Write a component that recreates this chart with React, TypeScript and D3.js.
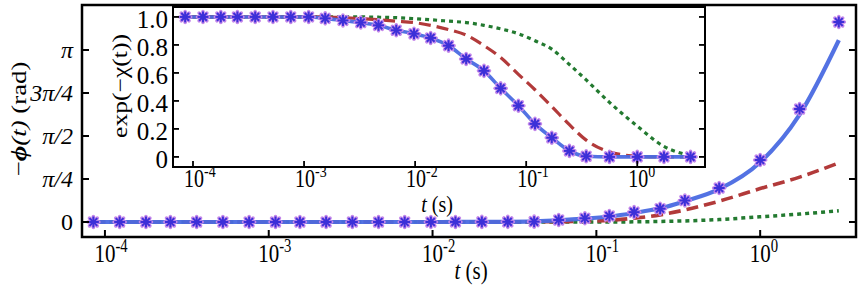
import React from 'react';
import * as d3 from 'd3';

// sample times (s), shared by every series
const times = [
  8.5e-5, 1.23e-4, 1.78e-4, 2.51e-4, 3.63e-4, 5.25e-4, 7.59e-4, 1.1e-3, 1.55e-3, 2.24e-3,
  3.24e-3, 4.68e-3, 6.76e-3, 9.77e-3, 0.0138, 0.02, 0.0288, 0.0417, 0.0589, 0.0851,
  0.12, 0.17, 0.245, 0.347, 0.562, 1.0, 1.74, 3.02,
];

// main panel: -phi(t) in rad
const phaseMarkers = [
  0, 0, 0, 0, 0, 0, 0, 0, 0, 0,
  0, 0, 0, 0, 0.001, 0.002, 0.003, 0.006, 0.037, 0.068,
  0.11, 0.18, 0.243, 0.393, 0.621, 1.132, 2.064, 3.653,
];
const phaseBlue = [
  0, 0, 0, 0, 0, 0, 0, 0, 0, 0,
  0, 0, 0, 0, 0.001, 0.002, 0.004, 0.012, 0.03, 0.06,
  0.1, 0.165, 0.25, 0.38, 0.6, 1.09, 1.96, 3.32,
];
const phaseRed = [
  0, 0, 0, 0, 0, 0, 0, 0, 0, 0,
  0, 0, 0, 0, 0, 0, 0.001, 0.003, 0.006, 0.012,
  0.03, 0.07, 0.13, 0.22, 0.38, 0.61, 0.82, 1.08,
];
const phaseGreen = [
  0, 0, 0, 0, 0, 0, 0, 0, 0, 0,
  0, 0, 0, 0, 0, 0, 0, 0, 0, 0,
  0, 0.003, 0.01, 0.02, 0.045, 0.095, 0.145, 0.205,
];

// inset: exp(-chi(t))
const cohMarkers = [
  1, 1, 1, 1, 1, 1, 1, 1, 0.99, 0.975,
  0.96, 0.94, 0.905, 0.88, 0.85, 0.795, 0.7, 0.615, 0.49, 0.366,
  0.236, 0.137, 0.043, 0.005, 0, 0, 0, 0,
];
const cohRed = [
  1, 1, 1, 1, 1, 1, 1, 1, 1, 0.995,
  0.988, 0.98, 0.97, 0.96, 0.94, 0.91, 0.87, 0.795, 0.71, 0.59,
  0.48, 0.36, 0.23, 0.12, 0.036, 0.005, 0, 0,
];
const cohGreen = [
  1, 1, 1, 1, 1, 1, 1, 1, 1, 1,
  1, 0.998, 0.995, 0.988, 0.98, 0.97, 0.96, 0.94, 0.915, 0.88,
  0.83, 0.77, 0.66, 0.55, 0.39, 0.22, 0.075, 0.01,
];

const decades = [-4, -3, -2, -1, 0];
const phaseTicks = [
  { v: 0, label: '0' },
  { v: Math.PI / 4, label: 'π/4' },
  { v: Math.PI / 2, label: 'π/2' },
  { v: (3 * Math.PI) / 4, label: '3π/4' },
  { v: Math.PI, label: 'π' },
];
const cohTicks = [0, 0.2, 0.4, 0.6, 0.8, 1.0];

const W = 866;
const H = 292;
const serif = '"Liberation Serif", "DejaVu Serif", serif';
const BLUE = '#4a6ae2';
const RED = '#b23a3a';
const GREEN = '#237a30';
const STAR = '#3c30d8';
const STRETCH = 1.22; // text in the source image is drawn taller than wide

const main = { left: 82, right: 856, top: 5, bottom: 237 };
const inset = { left: 173, right: 705, top: 7, bottom: 167 };

const Star = ({ x, y }: { x: number; y: number }) => {
  const r = 5.5;
  const arms = [0, 45, 90, 135].map((a) => {
    const rad = (a * Math.PI) / 180;
    return [Math.cos(rad) * r, Math.sin(rad) * r];
  });
  return (
    <g transform={`translate(${x},${y})`}>
      {arms.map(([dx, dy], i) => (
        <line key={'h' + i} x1={-dx} y1={-dy} x2={dx} y2={dy} stroke="#c487ea" strokeWidth={3.6} strokeLinecap="round" />
      ))}
      {arms.map(([dx, dy], i) => (
        <line key={'s' + i} x1={-dx} y1={-dy} x2={dx} y2={dy} stroke={STAR} strokeWidth={2} />
      ))}
      <circle r={1.8} fill={STAR} />
    </g>
  );
};

// "10^e" label, centred on the "10"
const Pow = ({ x, y, e, size }: { x: number; y: number; e: number; size: number }) => (
  <text
    transform={`translate(${x - size * 0.5},${y}) scale(1,${STRETCH})`}
    fontFamily={serif}
    fontSize={size}
    fill="#000"
  >
    10
    <tspan dy={-size * 0.4} fontSize={size * 0.7}>
      {e}
    </tspan>
  </text>
);

export default function App() {
  const mx = d3.scaleLog().domain([Math.pow(10, -4.14), Math.pow(10, 0.585)]).range([main.left, main.right]);
  const my = d3.scaleLinear().domain([-0.274, 3.963]).range([main.bottom, main.top]);
  const ix = d3.scaleLog().domain([Math.pow(10, -4.18), Math.pow(10, 0.61)]).range([inset.left, inset.right]);
  const iy = d3.scaleLinear().domain([-0.072, 1.071]).range([inset.bottom, inset.top]);

  const mainLine = d3
    .line<number>()
    .x((_, i) => mx(times[i]))
    .y((d) => my(d))
    .curve(d3.curveMonotoneX);
  const insetLine = d3
    .line<number>()
    .x((_, i) => ix(times[i]))
    .y((d) => iy(d))
    .curve(d3.curveMonotoneX);

  return (
    <svg width={W} height={H} style={{ position: 'absolute', left: 0, top: 0, background: '#fff' }}>
      <rect width={W} height={H} fill="#fff" />

      {/* main panel curves */}
      <path d={mainLine(phaseGreen) || ''} fill="none" stroke={GREEN} strokeWidth={3.5} strokeDasharray="4,4" />
      <path d={mainLine(phaseRed) || ''} fill="none" stroke={RED} strokeWidth={3.6} strokeDasharray="12,6" />
      <path d={mainLine(phaseBlue) || ''} fill="none" stroke={BLUE} strokeWidth={4.2} opacity={0.95} />
      {phaseMarkers.map((v, i) => (
        <Star key={i} x={mx(times[i])} y={my(v)} />
      ))}

      {/* main frame + ticks */}
      <rect
        x={main.left}
        y={main.top}
        width={main.right - main.left}
        height={main.bottom - main.top}
        fill="none"
        stroke="#000"
        strokeWidth={2.5}
      />
      {decades.map((d) => (
        <g key={d}>
          <line x1={mx(Math.pow(10, d))} x2={mx(Math.pow(10, d))} y1={main.bottom} y2={main.bottom - 7} stroke="#000" strokeWidth={2} />
          <Pow x={mx(Math.pow(10, d))} y={262} e={d} size={21} />
        </g>
      ))}
      {phaseTicks.map((t) => (
        <g key={t.label}>
          <line x1={main.left} x2={main.left + 7} y1={my(t.v)} y2={my(t.v)} stroke="#000" strokeWidth={2} />
          <line x1={main.right} x2={main.right - 7} y1={my(t.v)} y2={my(t.v)} stroke="#000" strokeWidth={2} />
          <text
            x={73}
            y={my(t.v) + 8}
            textAnchor="end"
            fontFamily={serif}
            fontSize={24}
            fontStyle={t.label === '0' ? 'normal' : 'italic'}
          >
            {t.label}
          </text>
        </g>
      ))}
      <text transform={`translate(471,279) scale(1,${STRETCH})`} textAnchor="middle" fontFamily={serif} fontSize={21}>
        <tspan fontStyle="italic">t</tspan> (s)
      </text>
      <text
        transform={`translate(26,119) scale(1,${STRETCH}) rotate(-90)`}
        textAnchor="middle"
        fontFamily={serif}
        fontSize={22}
      >
        −<tspan fontStyle="italic" fontWeight="bold">ϕ</tspan>
        <tspan fontStyle="italic">(t)</tspan> (rad)
      </text>

      {/* inset */}
      <rect x={inset.left} y={inset.top} width={inset.right - inset.left} height={inset.bottom - inset.top} fill="#fff" />
      <path d={insetLine(cohGreen) || ''} fill="none" stroke={GREEN} strokeWidth={3.2} strokeDasharray="4,4" />
      <path d={insetLine(cohRed) || ''} fill="none" stroke={RED} strokeWidth={3.2} strokeDasharray="12,6" />
      <path d={insetLine(cohMarkers) || ''} fill="none" stroke={BLUE} strokeWidth={3.6} opacity={0.95} />
      {cohMarkers.map((v, i) => (
        <Star key={i} x={ix(times[i])} y={iy(v)} />
      ))}
      <rect
        x={inset.left}
        y={inset.top}
        width={inset.right - inset.left}
        height={inset.bottom - inset.top}
        fill="none"
        stroke="#000"
        strokeWidth={2}
      />
      {decades.map((d) => (
        <g key={d}>
          <line x1={ix(Math.pow(10, d))} x2={ix(Math.pow(10, d))} y1={inset.bottom} y2={inset.bottom - 6} stroke="#000" strokeWidth={1.8} />
          <Pow x={ix(Math.pow(10, d)) + 1} y={187} e={d} size={20} />
        </g>
      ))}
      {cohTicks.map((v) => (
        <g key={v}>
          <line x1={inset.left} x2={inset.left + 6} y1={iy(v)} y2={iy(v)} stroke="#000" strokeWidth={1.8} />
          <line x1={inset.right} x2={inset.right - 6} y1={iy(v)} y2={iy(v)} stroke="#000" strokeWidth={1.8} />
          <text x={168} y={iy(v) + 11} textAnchor="end" fontFamily={serif} fontSize={25}>
            {v === 0 ? '0' : v.toFixed(1)}
          </text>
        </g>
      ))}
      <text transform={`translate(437,212) scale(1,1.12)`} textAnchor="middle" fontFamily={serif} fontSize={20}>
        <tspan fontStyle="italic">t</tspan> (s)
      </text>
      <text
        transform={`translate(127,86) scale(1,${STRETCH}) rotate(-90)`}
        textAnchor="middle"
        fontFamily={serif}
        fontSize={21}
      >
        exp(−χ(t))
      </text>
    </svg>
  );
}
